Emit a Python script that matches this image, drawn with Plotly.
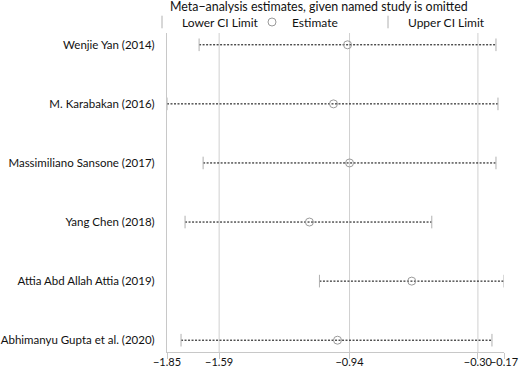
import plotly.graph_objects as go

studies = ["Wenjie Yan (2014)", "M. Karabakan (2016)", "Massimiliano Sansone (2017)",
           "Yang Chen (2018)", "Attia Abd Allah Attia (2019)", "Abhimanyu Gupta et al. (2020)"]
lower = [-1.69, -1.85, -1.67, -1.76, -1.09, -1.78]
estimate = [-0.95, -1.02, -0.94, -1.14, -0.63, -1.00]
upper = [-0.21, -0.20, -0.21, -0.53, -0.17, -0.23]

tick_vals = [-1.85, -1.59, -0.94, -0.30, -0.17]
tick_text = ["\u22121.85", "\u22121.59", "\u22120.94", "\u22120.30", "\u22120.17"]
grid_vals = [-1.59, -0.94, -0.30]

title_text = "Meta\u2212analysis estimates, given named study is omitted"

FONT = "Lato"
W, H = 520, 370
ML, MR, MT, MB = 167, 16, 33, 18
PW = W - ML - MR
PH = H - MT - MB
CI_GREY = "#b0b0b0"

fig = go.Figure()

# dotted CI lines
lx, ly = [], []
for s, lo, up in zip(studies, lower, upper):
    lx += [lo, up, None]
    ly += [s, s, None]
fig.add_trace(go.Scatter(x=lx, y=ly, mode="lines", line=dict(color="#000", width=1, dash="2px,1.5px"),
                         showlegend=False, hoverinfo="skip"))

fig.add_trace(go.Scatter(x=lower, y=studies, mode="markers", name="Lower CI Limit", legend="legend",
                         marker=dict(symbol="line-ns", size=9, color=CI_GREY,
                                     line=dict(color=CI_GREY, width=1))))
fig.add_trace(go.Scatter(x=estimate, y=studies, mode="markers", name="Estimate", legend="legend2",
                         marker=dict(symbol="circle-open", size=8, color="#9a9a9a", line=dict(width=1))))
fig.add_trace(go.Scatter(x=upper, y=studies, mode="markers", name="Upper CI Limit", legend="legend3",
                         marker=dict(symbol="line-ns", size=9, color=CI_GREY,
                                     line=dict(color=CI_GREY, width=1))))

for g in grid_vals:
    fig.add_shape(type="line", xref="x", yref="paper", x0=g, x1=g, y0=0, y1=1,
                  line=dict(color="#d0d0d0", width=1), layer="below")


def lg(text_px):
    return dict(x=(text_px - 40 - ML) / PW, xanchor="left", y=1 + (MT - 22) / PH, yanchor="middle",
                font=dict(size=12, color="#111"), bgcolor="rgba(0,0,0,0)", itemwidth=30)


fig.update_layout(
    width=W, height=H,
    margin=dict(l=ML, r=MR, t=MT, b=MB, autoexpand=False),
    paper_bgcolor="white", plot_bgcolor="white",
    font=dict(family=FONT, size=12, color="#111"),
    title=dict(text=title_text, x=170 / W, xanchor="left", xref="container", y=1 - 7 / H,
               yref="container", yanchor="middle", font=dict(size=12.4, color="#111")),
    showlegend=True,
    legend=lg(182), legend2=lg(292), legend3=lg(408),
    xaxis=dict(range=[-1.85, -0.17], tickvals=tick_vals, ticktext=tick_text, tickangle=0,
               showgrid=False, zeroline=False, showline=True, linecolor="#c8c8c8",
               ticks="outside", ticklen=6, tickcolor="#c8c8c8", tickfont=dict(size=11),
               ticklabelstandoff=-6),
    yaxis=dict(type="category", categoryorder="array", categoryarray=studies,
               range=[5.2, -0.2], showgrid=False, zeroline=False, showline=True,
               linecolor="#c8c8c8", ticks="", ticklabelstandoff=9, tickfont=dict(size=11.5)),
)

fig.write_html("out.html", config={"displayModeBar": False},
               post_script="document.body.style.margin='0';document.body.style.overflow='hidden';")
